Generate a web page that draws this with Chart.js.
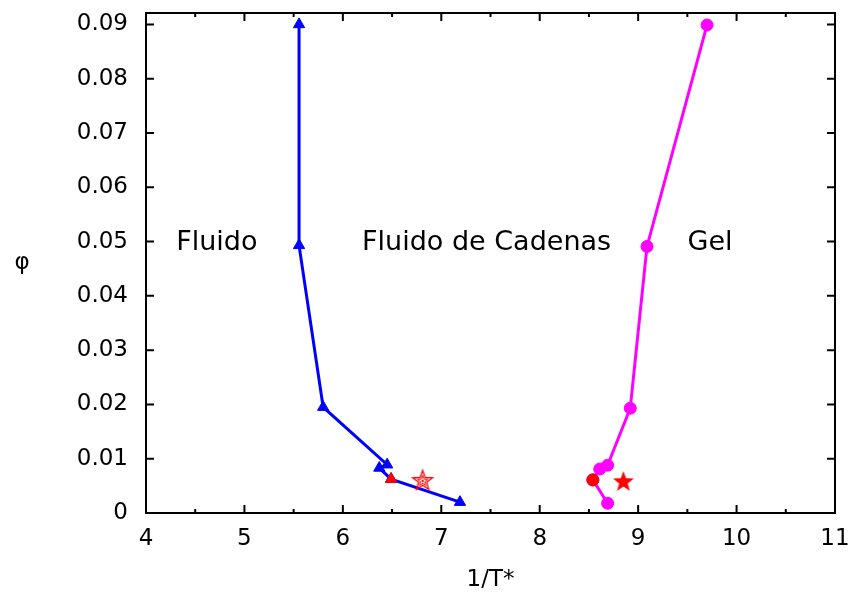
<!DOCTYPE html>
<html>
<head>
<meta charset="utf-8">
<script src="https://cdn.jsdelivr.net/npm/chart.js@4"></script>
<style>
  html, body { margin: 0; padding: 0; background: #fff; }
  #wrap { width: 851px; height: 593px; }
</style>
</head>
<body>
<div id="wrap"><canvas id="myChart"></canvas></div>
<script>
// Axis ticks
const xTicks = [4, 5, 6, 7, 8, 9, 10, 11];
const xMinorTicks = [4.5, 5.5, 6.5, 7.5, 8.5, 9.5, 10.5];
const yTicks = [0, 0.01, 0.02, 0.03, 0.04, 0.05, 0.06, 0.07, 0.08, 0.09];

// Fluid / chain-fluid boundary (blue triangles)
const fluidX = [5.555, 5.555, 5.80, 6.45, 6.37, 6.49, 7.19];
const fluidY = [0.0900, 0.0493, 0.0195, 0.0089, 0.0083, 0.00625, 0.0020];

// Chain-fluid / gel boundary (magenta circles)
const gelX = [9.70, 9.09, 8.92, 8.69, 8.61, 8.54, 8.69];
const gelY = [0.0899, 0.0491, 0.0193, 0.0088, 0.0081, 0.0061, 0.0018];

// Red markers
const fluidCritical = [6.49, 0.00625];
const gelCritical = [8.54, 0.0061];
const openStar = [6.81, 0.0061];
const filledStar = [8.85, 0.0059];

// Region names
const regionNames = ['Fluido', 'Fluido de Cadenas', 'Gel'];
const regionX = [4.72, 7.46, 9.73];
const regionY = [0.0497, 0.0497, 0.0497];

const toPoints = (xs, ys) => xs.map((x, i) => ({ x: x, y: ys[i] }));

// Star marker drawn to a small canvas, used as pointStyle
const makeStar = (filled) => {
    const size = 26, c = document.createElement('canvas');
    c.width = size; c.height = size;
    const g = c.getContext('2d');
    const path = (R, r) => {
        g.beginPath();
        for (let i = 0; i < 10; i++) {
            const rad = i % 2 === 0 ? R : r;
            const a = -Math.PI / 2 + i * Math.PI / 5;
            const px = size / 2 + rad * Math.cos(a), py = size / 2 + 1 + rad * Math.sin(a);
            i === 0 ? g.moveTo(px, py) : g.lineTo(px, py);
        }
        g.closePath();
    };
    g.strokeStyle = '#ff0000';
    g.fillStyle = '#ff0000';
    if (filled) {
        path(11, 4.5);
        g.fill();
    } else {
        g.lineWidth = 1.3;
        path(10.5, 4.3);
        g.stroke();
        g.lineWidth = 1;
        path(5.5, 2.3);
        g.stroke();
        g.beginPath();
        g.arc(size / 2, size / 2 + 1, 1.2, 0, Math.PI * 2);
        g.fill();
    }
    return c;
};

const tickFont = { family: 'DejaVu Sans', size: 23 };
const labelFont = '27px "DejaVu Sans"';

// Frame, inward ticks, titles and region names
const framePlugin = {
    id: 'frame',
    afterDraw(chart) {
        const { ctx, chartArea: a, scales } = chart;
        const xs = scales.x, ys = scales.y;
        ctx.save();
        ctx.strokeStyle = '#000';
        ctx.lineWidth = 2;
        ctx.beginPath();
        xTicks.forEach(v => {
            const px = xs.getPixelForValue(v);
            ctx.moveTo(px, a.bottom); ctx.lineTo(px, a.bottom - 8);
            ctx.moveTo(px, a.top); ctx.lineTo(px, a.top + 8);
        });
        xMinorTicks.forEach(v => {
            const px = xs.getPixelForValue(v);
            ctx.moveTo(px, a.bottom); ctx.lineTo(px, a.bottom - 4);
            ctx.moveTo(px, a.top); ctx.lineTo(px, a.top + 4);
        });
        yTicks.forEach(v => {
            const py = ys.getPixelForValue(v);
            ctx.moveTo(a.left, py); ctx.lineTo(a.left + 8, py);
            ctx.moveTo(a.right, py); ctx.lineTo(a.right - 8, py);
        });
        ctx.stroke();
        ctx.strokeRect(a.left, a.top, a.right - a.left, a.bottom - a.top);

        ctx.fillStyle = '#000';
        ctx.textAlign = 'center';
        ctx.textBaseline = 'middle';
        ctx.font = labelFont;
        regionNames.forEach((t, i) => {
            ctx.fillText(t, xs.getPixelForValue(regionX[i]), ys.getPixelForValue(regionY[i]));
        });
        ctx.font = '23px "DejaVu Sans"';
        ctx.fillText('1/T*', (a.left + a.right) / 2, 580);
        ctx.fillText('\u03c6', 22, (a.top + a.bottom) / 2);
        ctx.restore();
    }
};

const ctx = document.getElementById('myChart').getContext('2d');
new Chart(ctx, {
    type: 'scatter',
    data: {
        datasets: [
            {
                data: [{ x: fluidCritical[0], y: fluidCritical[1] }],
                pointStyle: 'triangle',
                pointRadius: 6.5,
                backgroundColor: '#ff0000',
                borderColor: '#ff0000',
                borderWidth: 1,
                order: 0
            },
            {
                data: [{ x: gelCritical[0], y: gelCritical[1] }],
                pointStyle: 'circle',
                pointRadius: 6,
                backgroundColor: '#ff0000',
                borderColor: '#ff0000',
                borderWidth: 1,
                order: 0
            },
            {
                data: [{ x: openStar[0], y: openStar[1] }],
                pointStyle: makeStar(false),
                order: 0
            },
            {
                data: [{ x: filledStar[0], y: filledStar[1] }],
                pointStyle: makeStar(true),
                order: 0
            },
            {
                data: toPoints(fluidX, fluidY),
                showLine: true,
                tension: 0,
                borderColor: '#0000ff',
                backgroundColor: '#0000ff',
                borderWidth: 3,
                pointStyle: 'triangle',
                pointRadius: 6.5,
                pointBorderWidth: 1,
                order: 1
            },
            {
                data: toPoints(gelX, gelY),
                showLine: true,
                tension: 0,
                borderColor: '#ff00ff',
                backgroundColor: '#ff00ff',
                borderWidth: 3,
                pointStyle: 'circle',
                pointRadius: 6,
                pointBorderWidth: 1,
                order: 1
            }
        ]
    },
    options: {
        responsive: true,
        maintainAspectRatio: false,
        animation: false,
        layout: { padding: { top: 13, right: 16, left: 0, bottom: 0 } },
        plugins: { legend: { display: false }, tooltip: { enabled: false } },
        scales: {
            x: {
                type: 'linear',
                min: 4,
                max: 11,
                afterBuildTicks: s => { s.ticks = xTicks.map(v => ({ value: v })); },
                afterFit: s => { s.height = 80; s.paddingLeft = 0; s.paddingRight = 0; },
                grid: { display: false, drawTicks: false },
                border: { display: false },
                ticks: { color: '#000', font: tickFont, padding: 12, maxRotation: 0 }
            },
            y: {
                type: 'linear',
                min: 0,
                max: 0.0921,
                afterBuildTicks: s => { s.ticks = yTicks.map(v => ({ value: v })); },
                afterFit: s => { s.width = 146; s.paddingTop = 0; s.paddingBottom = 0; },
                grid: { display: false, drawTicks: false },
                border: { display: false },
                ticks: {
                    color: '#000',
                    font: tickFont,
                    padding: 18,
                    callback: v => v === 0 ? '0' : v.toFixed(2)
                }
            }
        }
    },
    plugins: [framePlugin]
});
</script>
</body>
</html>
